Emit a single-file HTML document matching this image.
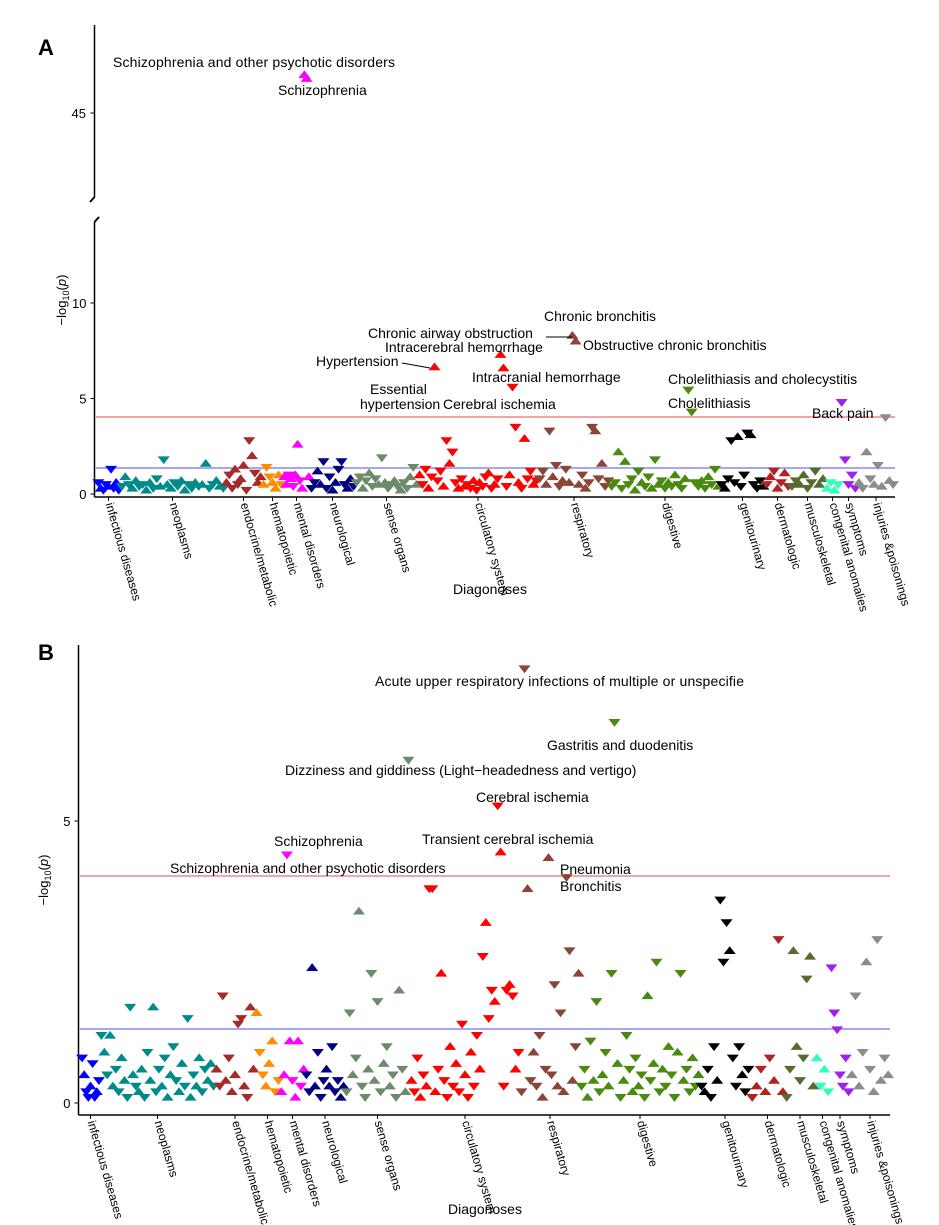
<!DOCTYPE html>
<html><head><meta charset="utf-8"><style>
html,body{margin:0;padding:0;background:#fff;}
svg{display:block;font-family:"Liberation Sans",Arial,sans-serif;}
</style></head><body>
<svg id="chart" width="939" height="1225" viewBox="0 0 939 1225">
<g id="static">
<text x="38" y="55" font-size="22" font-weight="bold">A</text>
<text x="38" y="660" font-size="22" font-weight="bold">B</text>
<line x1="94.5" y1="25" x2="94.5" y2="197" stroke="#000" stroke-width="1.5"/>
<path d="M94.5 197 L90 202" stroke="#000" stroke-width="2" fill="none"/>
<path d="M94.5 222 L99 217" stroke="#000" stroke-width="2" fill="none"/>
<line x1="94.5" y1="222" x2="94.5" y2="497" stroke="#000" stroke-width="1.5"/>
<line x1="94.5" y1="497" x2="895" y2="497" stroke="#000" stroke-width="1.5"/>
<text transform="translate(66,300) rotate(-90)" font-size="13" text-anchor="middle">−log<tspan font-size="9" dy="3">10</tspan><tspan dy="-3">(</tspan><tspan font-style="italic">p</tspan>)</text>
<text x="490" y="594" font-size="14" text-anchor="middle">Diagonoses</text>
<line x1="95" y1="417" x2="895" y2="417" stroke="#f4a6a6" stroke-width="2"/>
<line x1="95" y1="468" x2="895" y2="468" stroke="#a6a6f4" stroke-width="2"/>
<line x1="78.5" y1="645" x2="78.5" y2="1115" stroke="#000" stroke-width="1.5"/>
<line x1="78.5" y1="1115" x2="890" y2="1115" stroke="#000" stroke-width="1.5"/>
<text transform="translate(48,880) rotate(-90)" font-size="13" text-anchor="middle">−log<tspan font-size="9" dy="3">10</tspan><tspan dy="-3">(</tspan><tspan font-style="italic">p</tspan>)</text>
<text x="485" y="1214" font-size="14" text-anchor="middle">Diagonoses</text>
<line x1="79" y1="876" x2="890" y2="876" stroke="#f4a6a6" stroke-width="2"/>
<line x1="79" y1="1029" x2="890" y2="1029" stroke="#a6a6f4" stroke-width="2"/>
</g>
<g id="marks"></g>
<g id="annot" font-size="14">
<text x="113" y="67" textLength="282">Schizophrenia and other psychotic disorders</text>
<text x="278" y="95">Schizophrenia</text>
<text x="544" y="321">Chronic bronchitis</text>
<text x="368" y="338">Chronic airway obstruction</text>
<line x1="546" y1="337" x2="572" y2="337" stroke="#000"/>
<text x="385" y="352">Intracerebral hemorrhage</text>
<text x="583" y="350">Obstructive chronic bronchitis</text>
<text x="316" y="366">Hypertension</text>
<line x1="402" y1="363" x2="430" y2="368" stroke="#000"/>
<text x="472" y="382">Intracranial hemorrhage</text>
<text x="370" y="394">Essential</text>
<text x="360" y="409">hypertension</text>
<text x="443" y="409">Cerebral ischemia</text>
<text x="668" y="384">Cholelithiasis and cholecystitis</text>
<text x="668" y="408">Cholelithiasis</text>
<text x="812" y="418">Back pain</text>
<text x="375" y="686" textLength="369">Acute upper respiratory infections of multiple or unspecifie</text>
<text x="547" y="750">Gastritis and duodenitis</text>
<text x="285" y="775">Dizziness and giddiness (Light−headedness and vertigo)</text>
<text x="476" y="802">Cerebral ischemia</text>
<text x="422" y="844">Transient cerebral ischemia</text>
<text x="274" y="846">Schizophrenia</text>
<text x="170" y="873">Schizophrenia and other psychotic disorders</text>
<text x="560" y="874">Pneumonia</text>
<text x="560" y="891">Bronchitis</text>
</g>
</svg>
<script>
const categories = ["infectious diseases","neoplasms","endocrine/metabolic","hematopoietic","mental disorders","neurological","sense organs","circulatory system","respiratory","digestive","genitourinary","dermatologic","musculoskeletal","congenital anomalies","symptoms","injuries &poisonings"];
const colors = ["#0000ff","#008b8b","#a52a2a","#ff8c00","#ff00ff","#000080","#6b8b6b","#ff0000","#8b4536","#4a8a10","#000000","#b22222","#556b2f","#33ffbb","#a020f0","#8c8c8c"];
const dirs = ["dudduddud","duduudduud","uddudu","udduu","uudud","dduud","ddudu","uddud","ddudu","ddudu","dudd","dudu","dduud","ud","dd","udud"];
// Panel A values (-log10 p)
const aInfectious=[0.6,0.3,0.2,0.5,0.4,1.3,0.3,0.6,0.2];
const aNeoplasms=[0.4,0.9,0.5,0.3,0.7,0.4,0.5,0.2,0.6,0.3,0.8,0.4,1.8,0.5,0.3,0.6,0.4,0.7,0.2,0.5,0.3,0.6,0.4,0.5,1.6,0.3,0.5,0.7,0.4,0.3];
const aEndocrine=[0.6,1.0,0.3,1.3,0.5,0.8,1.5,0.2,2.8,2.0,1.1,0.6,0.9];
const aHemato=[0.5,1.4,0.9,0.6,0.3,1.0,0.5];
const aMental=[0.9,0.5,1.0,0.8,0.4,1.0,2.6,0.7,0.3,47.0,46.8,0.9];
const aNeuro=[0.3,0.6,1.2,0.5,1.7,0.3,0.9,0.2,0.6,1.3,1.7,0.5,0.3,0.8,0.4];
const aSense=[0.6,0.9,0.3,0.7,1.1,0.4,0.8,0.5,1.9,0.6,0.3,0.5,0.7,0.4,0.2,0.6,0.3,0.9,1.4,0.5];
const aCirc=[1.0,0.5,1.3,0.3,0.9,6.65,0.7,1.2,0.4,2.8,1.6,2.2,0.6,0.3,0.8,0.4,0.5,0.3,0.7,0.2,0.6,0.4,0.9,1.1,0.3,0.5,0.8,7.3,6.6,0.4,1.0,5.6,3.5,0.6,0.3,2.9,0.8,1.2,0.5,0.7];
const aResp=[0.8,1.2,0.5,3.3,0.9,1.5,0.4,0.7,1.3,0.6,8.3,8.0,0.5,1.0,0.3,0.6,3.5,3.3,0.8,1.6,0.4,0.7];
const aDigest=[0.4,0.6,2.2,0.3,1.7,0.5,0.8,0.2,1.2,0.6,0.4,0.9,0.3,1.8,0.5,0.7,0.3,0.6,0.4,1.0,0.5,0.3,0.8,5.45,4.3,0.6,0.4,0.7,0.3,0.9,0.5,1.3,0.4];
const aGenito=[0.5,0.3,0.8,2.8,0.6,3.0,0.4,1.0,3.2,3.1,0.5,0.3,0.7,0.4];
const aDerm=[0.5,0.9,1.2,0.3,0.6,1.1,0.4];
const aMusc=[0.4,0.7,0.5,1.0,0.3,0.6,1.2,0.5,0.8];
const aCong=[0.3,0.6,0.2,0.5];
const aSympt=[4.8,1.8,0.5,1.0,0.3];
const aInjury=[0.6,0.3,2.2,0.8,0.5,1.5,0.4,4.0,0.7,0.5];
// Panel B values
const bInfectious=[0.8,0.5,0.2,0.1,0.3,0.7,0.1,0.2,0.4];
const bNeoplasms=[1.2,0.9,0.5,1.2,0.3,0.6,0.2,0.8,0.4,0.1,1.7,0.5,0.3,0.2,0.6,0.1,0.9,0.4,1.7,0.2,0.6,0.3,0.8,0.1,0.5,1.0,0.4,0.2,0.7,0.3,1.5,0.1,0.5,0.3,0.8,0.2,0.6,0.4,0.7,0.3];
const bEndocrine=[0.6,0.3,1.9,0.4,0.8,0.2,0.5,1.4,1.5,0.3,0.1,1.7,0.6];
const bHemato=[1.6,0.9,0.5,0.3,0.7,1.1,0.2,0.4];
const bMental=[0.2,0.5,4.4,1.1,0.4,0.1,1.1,0.3,0.6];
const bNeuro=[0.5,0.2,2.4,0.3,0.9,0.1,0.4,0.6,0.3,1.0,0.2,0.4,0.1,0.3];
const bSense=[0.2,1.6,0.5,0.8,3.4,0.3,0.1,0.6,2.3,0.4,1.8,0.2,0.7,1.0,0.3,0.5,0.1,2.0,0.6,0.2,6.08];
const bCirc=[0.4,0.2,0.8,0.1,0.5,0.3,3.8,3.8,0.2,0.6,2.3,0.4,0.1,1.0,0.3,0.7,0.2,1.4,0.5,0.1,0.9,0.3,1.2,0.6,2.6,3.2,1.5,2.0,1.8,5.27,4.45,0.3,2.0,2.1,1.9,0.6,0.9];
const bResp=[0.2,7.7,3.8,0.4,0.9,0.3,1.2,0.1,0.6,4.35,0.5,2.1,0.3,1.6,0.2,4.0,2.7,0.4,1.0,2.3];
const bDigest=[0.3,0.6,0.1,1.1,0.4,1.8,0.2,0.5,0.9,0.3,2.3,6.75,0.7,0.1,0.4,1.2,0.6,0.2,0.8,0.3,0.5,0.1,1.9,0.4,0.7,2.5,0.2,0.6,0.3,1.0,0.5,0.1,0.9,2.3,0.4,0.6,0.2,0.8,0.3,0.5];
const bGenito=[0.3,0.2,0.6,0.1,1.0,0.4,3.6,2.5,3.2,2.7,0.8,0.3,1.0,0.5,0.2,0.6];
const bDerm=[0.1,0.3,0.6,0.2,0.8,0.4,2.9,0.2];
const bMusc=[0.1,0.6,2.7,1.0,0.4,0.8,2.2,2.6,0.3];
const bCong=[0.8,0.3,0.6,0.2];
const bSympt=[2.4,1.6,1.3,0.5,0.3,0.8,0.2];
const bInjury=[0.5,1.9,0.3,0.9,2.5,0.6,0.2,2.9,0.4,0.8,0.5];
const aTicks=[0,5,10];
const bTicks=[0,5];
const aDirOverride={"4-9":"u","4-10":"u","7-5":"u","7-27":"u","7-28":"u","7-31":"d","8-10":"u","8-11":"u","9-23":"d","9-24":"d","14-0":"d","15-7":"d"};
const bDirOverride={"4-2":"d","6-20":"d","7-29":"d","7-30":"u","8-1":"d","8-9":"u","8-15":"d","9-11":"d"};

const aSeries=[aInfectious,aNeoplasms,aEndocrine,aHemato,aMental,aNeuro,aSense,aCirc,aResp,aDigest,aGenito,aDerm,aMusc,aCong,aSympt,aInjury];
const bSeries=[bInfectious,bNeoplasms,bEndocrine,bHemato,bMental,bNeuro,bSense,bCirc,bResp,bDigest,bGenito,bDerm,bMusc,bCong,bSympt,bInjury];
const aBands=[97,120,225,262,283,310,355,418,538,610,720,765,790,825,840,857,895];
const bBands=[81,100,215,255,280,305,345,410,520,580,700,750,785,815,830,850,890];

const NS="http://www.w3.org/2000/svg";
const marks=document.getElementById('marks');
function mk(tag,attrs){const e=document.createElementNS(NS,tag);for(const k in attrs)e.setAttribute(k,attrs[k]);marks.appendChild(e);return e;}

function drawPanel(p,series,cfg){
  series.forEach((vals,c)=>{
    const b0=cfg.bands[c],b1=cfg.bands[c+1];
    const xs=i=>b0+(i+0.5)*(b1-b0)/vals.length;
    vals.forEach((v,i)=>{
      const x=xs(i);
      const y=cfg.y(v);
      const o=cfg.over[c+'-'+i];
      const up=o?o==='u':dirs[c][i%dirs[c].length]==='u';
      const s=6;
      const d=up?`M${x-s},${y+s*0.55} L${x+s},${y+s*0.55} L${x},${y-s*0.75} Z`:`M${x-s},${y-s*0.55} L${x+s},${y-s*0.55} L${x},${y+s*0.75} Z`;
      const t=mk('path',{d:d,fill:colors[c]});
      
      
    });
    const cx=(b0+b1)/2;
    const tk=mk('line',{x1:cx,y1:cfg.axisY,x2:cx,y2:cfg.axisY+4,stroke:'#000'});
    
    
    const lb=mk('text',{transform:`translate(${cx-3},${cfg.axisY+7}) rotate(74)`,'font-size':'12'});
    lb.textContent=categories[c];
    
    
  });
  cfg.ticks.forEach(t=>{
    const y=cfg.y(t);
    const l=mk('line',{x1:cfg.ax-4,y1:y,x2:cfg.ax,y2:y,stroke:'#000'});
    
    
    const tx=mk('text',{x:cfg.ax-8,y:y+5,'font-size':'13','text-anchor':'end'});
    tx.textContent=t;
    
    
  });
}
const aY=v=>v>20?113-(v-45)*19.1:494-v*19.1;
drawPanel('a',aSeries,{bands:aBands,over:aDirOverride,y:aY,axisY:497,ax:94.5,ticks:aTicks});
const t45=mk('line',{x1:90.5,y1:aY(45),x2:94.5,y2:aY(45),stroke:'#000'});


const l45=mk('text',{x:86,y:aY(45)+5,'font-size':'13','text-anchor':'end'});
l45.textContent='45';


const bY=v=>1103-v*56.4;
drawPanel('b',bSeries,{bands:bBands,over:bDirOverride,y:bY,axisY:1115,ax:78.5,ticks:bTicks});
</script>
</body></html>
